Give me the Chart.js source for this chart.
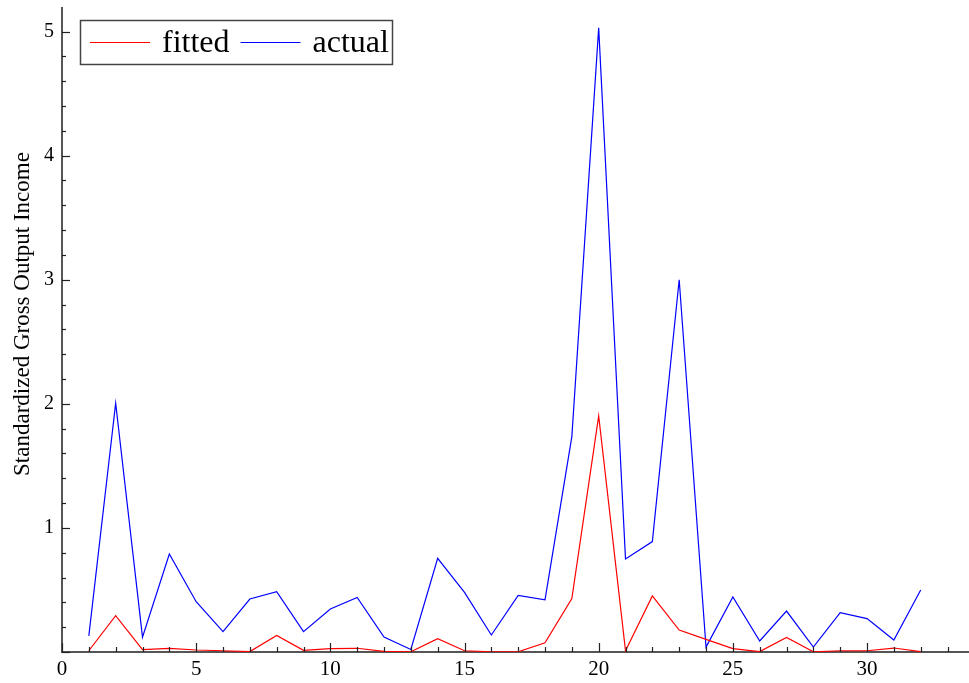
<!DOCTYPE html>
<html>
<head>
<meta charset="utf-8">
<script src="https://cdn.jsdelivr.net/npm/chart.js@4"></script>
<style>
  body { margin: 0; background: #fff; }
</style>
</head>
<body>
<canvas id="myChart" width="969" height="683"></canvas>
<script>
const xValues = [1,2,3,4,5,6,7,8,9,10,11,12,13,14,15,16,17,18,19,20,21,22,23,24,25,26,27,28,29,30,31,32];
const fitted = [0.01,0.293,0.02,0.03,0.016,0.01,0.003,0.134,0.013,0.027,0.03,0.005,0.002,0.107,0.01,0.002,
  0.002,0.075,0.43,1.903,0.01,0.452,0.177,0.102,0.027,0.003,0.118,0.002,0.01,0.01,0.032,0.003];
const actual = [0.13,2.005,0.12,0.79,0.405,0.164,0.427,0.486,0.164,0.347,0.44,0.121,0.02,0.755,0.48,0.137,
  0.457,0.42,1.736,5.03,0.75,0.89,3.0,0.04,0.444,0.089,0.33,0.04,0.317,0.269,0.097,0.5];
const seriesLabels = ["fitted", "actual"];
const yTitle = "Standardized Gross Output Income";

const ctx = document.getElementById("myChart");
const serif = "'Liberation Serif', 'DejaVu Serif', serif";
const axisColor = "#555";

// ticks inside the axes, major + minor
const tickPlugin = {
  id: "innerTicks",
  afterDatasetsDraw(chart) {
    const c = chart.ctx;
    const xs = chart.scales.x;
    const ys = chart.scales.y;
    const bottom = chart.chartArea.bottom;
    const left = chart.chartArea.left;
    c.save();
    c.strokeStyle = "#222";
    c.lineWidth = 1.2;
    for (let i = 0; i <= xs.max; i++) {
      const px = Math.round(xs.getPixelForValue(i)) + 0.5;
      const len = i % 5 === 0 ? 9 : 5;
      c.beginPath();
      c.moveTo(px, bottom);
      c.lineTo(px, bottom - len);
      c.stroke();
    }
    for (let j = 0; j <= Math.floor(ys.max * 5); j++) {
      const py = Math.round(ys.getPixelForValue(j / 5)) + 0.5;
      const len = j % 5 === 0 ? 8 : 4;
      c.beginPath();
      c.moveTo(left, py);
      c.lineTo(left + len, py);
      c.stroke();
    }
    c.restore();
  },
};

// legend box inside the plot + y title
const legendPlugin = {
  id: "boxLegend",
  afterDraw(chart) {
    const c = chart.ctx;
    c.save();
    c.strokeStyle = "#444";
    c.lineWidth = 1.5;
    c.strokeRect(80.5, 20.5, 312, 44);
    c.font = "32px " + serif;
    c.textBaseline = "middle";
    c.fillStyle = "#000";
    let x = 90;
    chart.data.datasets.forEach((ds) => {
      c.strokeStyle = ds.borderColor;
      c.lineWidth = 1.2;
      c.beginPath();
      c.moveTo(x, 42.5);
      c.lineTo(x + 60, 42.5);
      c.stroke();
      c.fillText(ds.label, x + 72, 44);
      x += 72 + c.measureText(ds.label).width + 11;
    });
    c.restore();

    c.save();
    c.translate(23, 314);
    c.rotate(-Math.PI / 2);
    c.font = "23px " + serif;
    c.textAlign = "center";
    c.textBaseline = "middle";
    c.fillStyle = "#000";
    c.fillText(yTitle, 0, 0);
    c.restore();
  },
};

new Chart(ctx, {
  type: "line",
  data: {
    labels: xValues,
    datasets: [
      {
        label: seriesLabels[0],
        data: xValues.map((x, i) => ({ x: x, y: fitted[i] })),
        borderColor: "#ff0000",
        borderWidth: 1.2,
        pointRadius: 0,
        tension: 0,
        fill: false,
      },
      {
        label: seriesLabels[1],
        data: xValues.map((x, i) => ({ x: x, y: actual[i] })),
        borderColor: "#0000ff",
        borderWidth: 1.2,
        pointRadius: 0,
        tension: 0,
        fill: false,
      },
    ],
  },
  options: {
    responsive: false,
    animation: false,
    layout: { padding: { top: 8, right: 0, left: 0, bottom: 0 } },
    plugins: {
      legend: { display: false },
      tooltip: { enabled: false },
    },
    scales: {
      x: {
        type: "linear",
        min: 0,
        max: 33.8,
        grid: { display: false, drawTicks: false },
        border: { display: true, color: axisColor, width: 2 },
        ticks: {
          stepSize: 5,
          includeBounds: false,
          maxRotation: 0,
          padding: 5,
          color: "#000",
          font: { family: serif, size: 21 },
        },
        afterFit: (s) => { s.height = 31; s.paddingLeft = 0; s.paddingRight = 0; },
      },
      y: {
        min: 0,
        max: 5.19,
        grid: { display: false, drawTicks: false },
        border: { display: true, color: axisColor, width: 2 },
        ticks: {
          stepSize: 1,
          includeBounds: false,
          padding: 8,
          color: "#000",
          font: { family: serif, size: 20 },
          callback: (v) => (v === 0 ? "" : v),
        },
        afterFit: (s) => { s.width = 62; s.paddingTop = 0; s.paddingBottom = 0; },
      },
    },
  },
  plugins: [tickPlugin, legendPlugin],
});
</script>
</body>
</html>
